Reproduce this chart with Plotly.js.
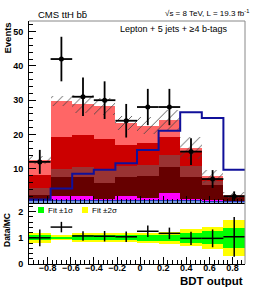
<!DOCTYPE html>
<html><head><meta charset="utf-8">
<script src="https://cdn.plot.ly/plotly-3.0.1.min.js"></script>
<style>html,body{margin:0;padding:0;background:#fff}#plot{width:258px;height:290px}</style>
</head><body><div id="plot"></div>
<script>
// ---- data ----
const xMin = -0.962;
const binWidth = 0.187;
const nBins = 10;
// stacked backgrounds (thickness of each layer per bin), bottom to top
const ewk     = [0.5, 0.5, 0.5, 0.5, 0.5, 0.5, 0.5, 0.5, 0.4, 0.3];
const ttV     = [0.3, 0.3, 0.3, 0.3, 0.3, 0.3, 0.3, 0.3, 0.3, 0.2];
const singleT = [0.1, 1.3, 1.1, 0.3, 1.1, 0.6, 2.2, 0.4, 0.3, 0.2];
const ttbb    = [1.5, 5.4, 5.7, 4.7, 5.7, 6.6, 7.5, 6.4, 4.3, 1.1];
const ttb     = [2.0, 2.5, 2.9, 4.2, 3.3, 3.2, 3.6, 3.3, 1.2, 0.2];
const ttcc    = [3.9, 9.4, 9.2, 8.7, 6.1, 6.3, 5.3, 4.4, 0.5, 0.1];
const ttlf    = [4.3, 10.3, 9.1, 9.5, 6.3, 5.1, 4.8, 0.7, 0.8, 0.2];
// ttH signal (scaled) drawn as line
const signal  = [1.0, 4.2, 8.5, 9.7, 11.6, 15.5, 21.1, 26.5, 24.8, 9.7];
// data
const dataY   = [12, 42, 31, 30, 24, 28, 28, 15, 7, 2];
const dataErr = [3.5, 6.5, 5.6, 5.5, 4.9, 5.3, 5.3, 3.9, 2.6, 1.4];
// ratio panel
const ratioY   = [1.0, 1.41, 1.07, 1.06, 1.04, 1.25, 1.17, 0.98, 0.98, 1.04];
const ratioErr = [0.32, 0.2, 0.18, 0.2, 0.2, 0.22, 0.22, 0.25, 0.34, 0.76];
const fit1s    = [0.10, 0.05, 0.09, 0.09, 0.09, 0.11, 0.12, 0.2, 0.25, 0.38];
const fit2s    = [0.2, 0.1, 0.17, 0.17, 0.17, 0.2, 0.22, 0.32, 0.42, 0.68];

// ---- build ----
const centers = [], edges = [];
for (let i = 0; i <= nBins; i++) edges.push(xMin + i * binWidth);
for (let i = 0; i < nBins; i++) centers.push(xMin + (i + 0.5) * binWidth);
const xMax = edges[nBins];

const layers = [
  {v: ewk, c: '#7799dd'},
  {v: ttV, c: '#2233bb'},
  {v: singleT, c: '#ff00ff'},
  {v: ttbb, c: '#660000'},
  {v: ttb, c: '#993333'},
  {v: ttcc, c: '#cc0000'},
  {v: ttlf, c: '#ff6666'}
];
const traces = [];
const cum = new Array(nBins).fill(0);
layers.forEach(L => {
  traces.push({type: 'bar', x: centers, y: L.v, base: cum.slice(), width: binWidth,
    marker: {color: L.c, line: {width: 0}}, xaxis: 'x2', yaxis: 'y', hoverinfo: 'skip'});
  for (let i = 0; i < nBins; i++) cum[i] += L.v[i];
});
const total = cum.slice();
const err = total.map((t, i) => t * fit1s[i]);
traces.push({type: 'bar', x: centers, y: err.map(e => 2 * e), base: total.map((t, i) => t - err[i]),
  width: binWidth, xaxis: 'x2', yaxis: 'y', hoverinfo: 'skip',
  marker: {color: '#444', line: {width: 0}, pattern: {shape: '/', size: 7, solidity: 0.12, fgcolor: '#444', fillmode: 'replace'}}});
traces.push({type: 'scatter', mode: 'lines', x: edges, y: signal.concat([signal[nBins - 1]]),
  line: {shape: 'hv', color: '#10109a', width: 2}, xaxis: 'x2', yaxis: 'y', hoverinfo: 'skip'});
traces.push({type: 'scatter', mode: 'markers', x: centers, y: dataY, xaxis: 'x2', yaxis: 'y',
  marker: {color: 'black', size: 5},
  error_y: {type: 'data', array: dataErr, color: 'black', thickness: 1.8, width: 0},
  error_x: {type: 'constant', value: binWidth / 2, color: 'black', thickness: 1.8, width: 0}});

// ratio
traces.push({type: 'bar', x: centers, y: fit2s.map(e => 2 * e), base: fit2s.map(e => 1 - e), width: binWidth,
  marker: {color: '#ffff00', line: {width: 0}}, xaxis: 'x', yaxis: 'y2', hoverinfo: 'skip'});
traces.push({type: 'bar', x: centers, y: fit1s.map(e => 2 * e), base: fit1s.map(e => 1 - e), width: binWidth,
  marker: {color: '#00ff00', line: {width: 0}}, xaxis: 'x', yaxis: 'y2', hoverinfo: 'skip'});
traces.push({type: 'scatter', mode: 'markers', x: centers, y: ratioY, xaxis: 'x', yaxis: 'y2',
  marker: {color: 'black', size: 1},
  error_y: {type: 'data', array: ratioErr, color: 'black', thickness: 1.5, width: 0},
  error_x: {type: 'constant', value: binWidth / 2, color: 'black', thickness: 1.5, width: 0}});

const F = 'Liberation Sans, Arial, sans-serif';
const tickFont = {family: F, size: 9, color: 'black', weight: 'bold'};
const H = 243, B = 26;
const py = p => (290 - B - p) / H;     // pixel y -> paper y
const px = p => (p - 29) / 216;        // pixel x -> paper x

const layout = {
  width: 258, height: 290,
  margin: {l: 29, r: 13, t: 21, b: 26, pad: 0},
  paper_bgcolor: 'white', plot_bgcolor: 'white',
  showlegend: false, barmode: 'overlay', bargap: 0,
  xaxis: {domain: [0, 1], anchor: 'y2', range: [xMin, xMax], dtick: 0.2, tick0: 0,
    ticks: 'inside', ticklen: 7, tickcolor: 'black', showgrid: false, zeroline: false,
    showline: true, linecolor: 'black', linewidth: 1, tickfont: tickFont, ticklabelstandoff: -5,
    minor: {ticks: 'inside', ticklen: 4, dtick: 0.04, tickcolor: 'black', showgrid: false}},
  xaxis2: {domain: [0, 1], anchor: 'y', range: [xMin, xMax], dtick: 0.2, tick0: 0,
    ticks: 'inside', ticklen: 7, tickcolor: 'black', showgrid: false, zeroline: false,
    showline: true, linecolor: 'black', showticklabels: false,
    minor: {ticks: 'inside', ticklen: 4, dtick: 0.04, tickcolor: 'black', showgrid: false}},
  yaxis: {domain: [0.251, 1], anchor: 'x2', range: [0, 53.1], tickvals: [10, 20, 30, 40, 50],
    ticks: 'inside', ticklen: 7, tickcolor: 'black', showgrid: false, zeroline: false,
    showline: true, linecolor: 'black', tickfont: tickFont, ticklabelstandoff: 3,
    minor: {ticks: 'inside', ticklen: 4, dtick: 2, tickcolor: 'black', showgrid: false}},
  yaxis2: {domain: [0, 0.251], anchor: 'x', range: [0, 2.33], tickvals: [0, 1, 2],
    ticks: 'inside', ticklen: 7, tickcolor: 'black', showgrid: false, zeroline: false,
    showline: true, linecolor: 'black', tickfont: tickFont, ticklabelstandoff: 3,
    minor: {ticks: 'inside', ticklen: 4, dtick: 0.2, tickcolor: 'black', showgrid: false}},
  shapes: [
    {type: 'line', xref: 'paper', yref: 'paper', x0: 0, x1: 1, y0: 1, y1: 1, line: {color: '#888', width: 1}},
    {type: 'line', xref: 'paper', yref: 'paper', x0: 1, x1: 1, y0: 0, y1: 1, line: {color: '#888', width: 1}},
    {type: 'rect', xref: 'paper', yref: 'paper', x0: px(38), x1: px(44), y0: py(213), y1: py(207), fillcolor: '#00ff00', line: {width: 0}},
    {type: 'rect', xref: 'paper', yref: 'paper', x0: px(82), x1: px(88), y0: py(213), y1: py(207), fillcolor: '#ffff00', line: {width: 0}}
  ],
  annotations: [
    {text: 'CMS ttH bb\u0304', xref: 'paper', yref: 'paper', x: px(36), y: py(14), xanchor: 'left', yanchor: 'middle', showarrow: false,
      font: {family: F, size: 9.5, color: 'black'}},
    {text: '\u221As = 8 TeV, L = 19.3 fb<sup>-1</sup>', xref: 'paper', yref: 'paper', x: px(251), y: py(13), xanchor: 'right', yanchor: 'middle', showarrow: false,
      font: {family: F, size: 8, color: 'black'}},
    {text: 'Lepton + 5 jets + \u22654 b-tags', xref: 'paper', yref: 'paper', x: px(230), y: py(29), xanchor: 'right', yanchor: 'middle', showarrow: false,
      font: {family: F, size: 9, color: 'black'}},
    {text: 'Events', xref: 'paper', yref: 'paper', x: px(7), y: 1, xanchor: 'center', yanchor: 'top', textangle: -90, showarrow: false,
      font: {family: F, size: 9.5, color: 'black', weight: 'bold'}},
    {text: 'Data/MC', xref: 'paper', yref: 'paper', x: px(7), y: py(230), xanchor: 'center', yanchor: 'middle', textangle: -90, showarrow: false,
      font: {family: F, size: 8.5, color: 'black', weight: 'bold'}},
    {text: 'BDT output', xref: 'paper', yref: 'paper', x: 1, y: py(281), xanchor: 'right', yanchor: 'middle', showarrow: false,
      font: {family: F, size: 11.5, color: 'black', weight: 'bold'}},
    {text: 'Fit \u00B11\u03C3', xref: 'paper', yref: 'paper', x: px(46), y: py(210), xanchor: 'left', yanchor: 'middle', showarrow: false,
      font: {family: F, size: 8, color: 'black'}},
    {text: 'Fit \u00B12\u03C3', xref: 'paper', yref: 'paper', x: px(90), y: py(210), xanchor: 'left', yanchor: 'middle', showarrow: false,
      font: {family: F, size: 8, color: 'black'}}
  ]
};
Plotly.newPlot('plot', traces, layout, {staticPlot: true, displayModeBar: false});
</script>
</body></html>
